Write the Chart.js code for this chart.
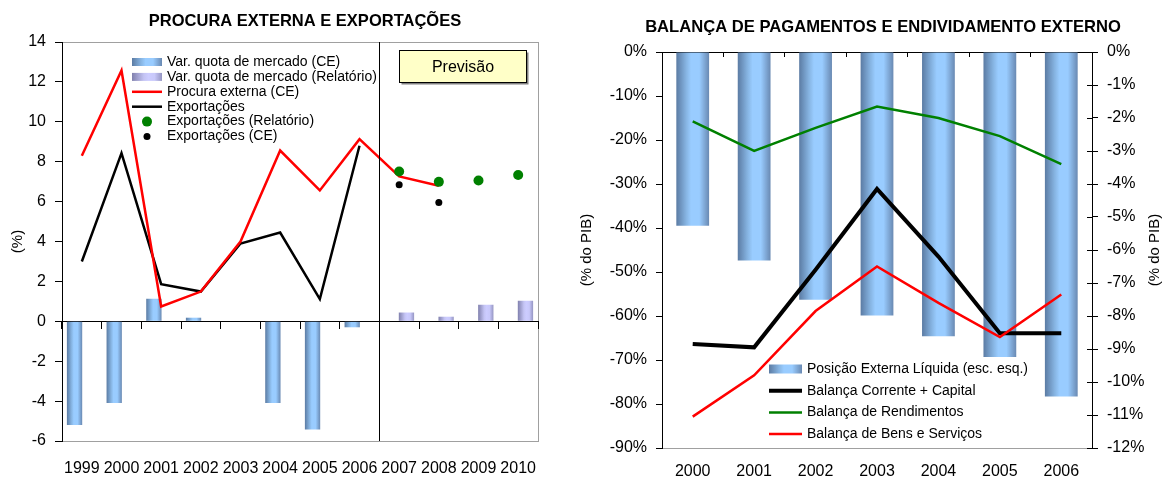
<!DOCTYPE html>
<html>
<head>
<meta charset="utf-8">
<script src="https://cdn.jsdelivr.net/npm/chart.js@4"></script>
<style>
html, body { margin: 0; padding: 0; background: #fff; }
#esq { position: absolute; left: 0; top: 0; width: 575px; height: 479px; }
#dir { position: absolute; left: 575px; top: 0; width: 587px; height: 479px; }
</style>
</head>
<body>
<div id="esq"><canvas id="procura"></canvas></div>
<div id="dir"><canvas id="balanca"></canvas></div>
<script>
const FONT = "'Liberation Sans', Arial, sans-serif";
Chart.defaults.font.family = FONT;
Chart.defaults.color = '#000';

// grafico 1 - procura externa e exportacoes
const anos1 = ['1999', '2000', '2001', '2002', '2003', '2004', '2005', '2006', '2007', '2008', '2009', '2010'];
const quotaCE = [-5.2, -4.1, 1.13, 0.18, null, -4.1, -5.42, -0.3, null, null, null, null];
const quotaRel = [null, null, null, null, null, null, null, null, 0.44, 0.23, 0.83, 1.03];
const procuraCE = [8.3, 12.57, 0.74, 1.49, 4.0, 8.56, 6.56, 9.13, 7.26, 6.79, null, null];
const exportacoes = [3.0, 8.43, 1.86, 1.49, 3.9, 4.45, 1.11, 8.8, null, null, null, null];
const exportRel = [null, null, null, null, null, null, null, null, 7.51, 6.99, 7.06, 7.33];
const exportCE = [null, null, null, null, null, null, null, null, 6.84, 5.95, null, null];

// grafico 2 - balanca de pagamentos
const anos2 = ['2000', '2001', '2002', '2003', '2004', '2005', '2006'];
const posicaoExt = [-39.5, -47.4, -56.3, -59.9, -64.6, -69.3, -78.3];
const balCorrente = [-8.85, -8.95, -6.6, -4.15, -6.2, -8.52, -8.52];
const balRend = [-2.1, -3.0, -2.3, -1.65, -2.0, -2.55, -3.4];
const balBens = [-11.05, -9.8, -7.85, -6.5, -7.6, -8.64, -7.35];

// gradientes das barras (efeito cilindro)
const GRAD_AZUL = [[0, '#5b7ba3'], [0.3, '#86b4e2'], [0.45, '#99ccff'], [0.7, '#99ccff'], [1, '#6989b2']];
const GRAD_LILAS = [[0, '#8080ad'], [0.4, '#c4c4f4'], [0.55, '#ccccff'], [0.75, '#c8c8fa'], [1, '#9595c2']];

const fazGradiente = (ctx, x0, x1, stops) => {
    const g = ctx.createLinearGradient(x0, 0, x1, 0);
    stops.forEach(([s, c]) => g.addColorStop(s, c));
    return g;
};

// aplica o gradiente a cada barra, usando a posicao calculada pelo chart
const barrasGradiente = {
    id: 'barrasGradiente',
    beforeDatasetsDraw(chart) {
        chart.data.datasets.forEach((ds, i) => {
            if (!ds.gradiente) return;
            chart.getDatasetMeta(i).data.forEach(bar => {
                if (!bar.width) return;
                bar.options.backgroundColor = fazGradiente(chart.ctx, bar.x - bar.width / 2, bar.x + bar.width / 2, ds.gradiente);
            });
        });
    }
};

// legenda desenhada dentro da area do grafico
const legendaPlugin = {
    id: 'legenda',
    afterDatasetsDraw(chart, args, opts) {
        const ctx = chart.ctx;
        ctx.save();
        ctx.font = opts.size + 'px ' + FONT;
        ctx.textBaseline = 'middle';
        ctx.textAlign = 'left';
        chart.data.datasets.forEach((ds, i) => {
            const y = opts.y + i * opts.row;
            const x0 = opts.x, x1 = opts.x + opts.w;
            if (ds.type === 'bar') {
                ctx.fillStyle = fazGradiente(ctx, x0, x1, ds.gradiente);
                ctx.fillRect(x0, y - opts.barH / 2, opts.w, opts.barH);
            } else if (ds.showLine === false) {
                ctx.fillStyle = ds.pointBackgroundColor;
                ctx.beginPath();
                ctx.arc((x0 + x1) / 2, y, ds.pointRadius, 0, Math.PI * 2);
                ctx.fill();
            } else {
                ctx.strokeStyle = ds.borderColor;
                ctx.lineWidth = ds.borderWidth;
                ctx.beginPath();
                ctx.moveTo(x0, y);
                ctx.lineTo(x1, y);
                ctx.stroke();
            }
            ctx.fillStyle = '#000';
            ctx.fillText(ds.label, x1 + opts.gap, y);
        });
        ctx.restore();
    }
};

// moldura cinzenta da area de desenho
const moldura = {
    id: 'moldura',
    beforeDraw(chart) {
        const a = chart.chartArea, ctx = chart.ctx;
        ctx.save();
        ctx.strokeStyle = '#a0a0a0';
        ctx.lineWidth = 1;
        ctx.strokeRect(Math.round(a.left) + 0.5, Math.round(a.top) + 0.5, Math.round(a.right - a.left), Math.round(a.bottom - a.top));
        ctx.restore();
    }
};

// titulo centrado com um pequeno desvio em relacao a area do grafico
const titulo = {
    id: 'titulo',
    afterDraw(chart, args, opts) {
        const ctx = chart.ctx, a = chart.chartArea;
        ctx.save();
        ctx.font = 'bold ' + opts.size + 'px ' + FONT;
        ctx.fillStyle = '#000';
        ctx.textAlign = 'center';
        ctx.textBaseline = 'middle';
        ctx.fillText(opts.texto, (a.left + a.right) / 2 + opts.dx, opts.y);
        ctx.restore();
    }
};

// linha de separacao e caixa "Previsão"
const previsao = {
    id: 'previsao',
    afterDraw(chart, args, opts) {
        const ctx = chart.ctx, xs = chart.scales.x, ys = chart.scales.y, a = chart.chartArea;
        ctx.save();
        const xSep = Math.round((xs.getPixelForValue(opts.separador - 1) + xs.getPixelForValue(opts.separador)) / 2) + 0.5;
        ctx.strokeStyle = '#000';
        ctx.lineWidth = 1;
        ctx.beginPath();
        ctx.moveTo(xSep, a.top);
        ctx.lineTo(xSep, a.bottom);
        ctx.stroke();

        const bx0 = Math.round(xs.getPixelForValue(opts.caixa.x0)) + 0.5;
        const bx1 = Math.round(xs.getPixelForValue(opts.caixa.x1)) + 0.5;
        const by0 = Math.round(ys.getPixelForValue(opts.caixa.y0)) + 0.5;
        const by1 = Math.round(ys.getPixelForValue(opts.caixa.y1)) + 0.5;
        ctx.fillStyle = '#808080';
        ctx.fillRect(bx0 + 2, by0 + 2, bx1 - bx0, by1 - by0);
        ctx.fillStyle = '#ffffc8';
        ctx.fillRect(bx0, by0, bx1 - bx0, by1 - by0);
        ctx.strokeRect(bx0, by0, bx1 - bx0, by1 - by0);
        ctx.fillStyle = '#000';
        ctx.font = '16px ' + FONT;
        ctx.textAlign = 'center';
        ctx.textBaseline = 'middle';
        ctx.fillText(opts.texto, (bx0 + bx1) / 2, (by0 + by1) / 2 + 1);
        ctx.restore();
    }
};

// titulo do eixo direito (lido de baixo para cima) e marcas cruzadas
const eixoDireito = {
    id: 'eixoDireito',
    afterDraw(chart, args, opts) {
        const ctx = chart.ctx, sc = chart.scales.y1;
        ctx.save();
        ctx.strokeStyle = '#000';
        ctx.lineWidth = 1;
        sc.ticks.forEach((t, i) => {
            const y = Math.round(sc.getPixelForTick(i)) + 0.5;
            ctx.beginPath();
            ctx.moveTo(sc.left - 5, y);
            ctx.lineTo(sc.left, y);
            ctx.stroke();
        });
        ctx.translate(sc.right - 7, (sc.top + sc.bottom) / 2);
        ctx.rotate(-Math.PI / 2);
        ctx.font = '15px ' + FONT;
        ctx.fillStyle = '#000';
        ctx.textAlign = 'center';
        ctx.textBaseline = 'middle';
        ctx.fillText(opts.texto, 0, 0);
        ctx.restore();
    }
};

const tickFont = { family: FONT, size: 16 };

new Chart(document.getElementById('procura'), {
    type: 'bar',
    data: {
        labels: anos1,
        datasets: [
            { type: 'bar', label: 'Var. quota de mercado (CE)', data: quotaCE, gradiente: GRAD_AZUL,
              backgroundColor: () => '#99ccff', borderWidth: 0, xAxisID: 'x', yAxisID: 'y', order: 10 },
            { type: 'bar', label: 'Var. quota de mercado (Relatório)', data: quotaRel, gradiente: GRAD_LILAS,
              backgroundColor: () => '#ccccff', borderWidth: 0, xAxisID: 'x', yAxisID: 'y', order: 10 },
            { type: 'line', label: 'Procura externa (CE)', data: procuraCE, borderColor: '#ff0000', borderWidth: 2.5,
              pointRadius: 0, tension: 0, spanGaps: false, xAxisID: 'x', yAxisID: 'y', order: 4 },
            { type: 'line', label: 'Exportações', data: exportacoes, borderColor: '#000000', borderWidth: 2.5,
              pointRadius: 0, tension: 0, xAxisID: 'x', yAxisID: 'y', order: 5 },
            { type: 'line', label: 'Exportações (Relatório)', data: exportRel, showLine: false, pointRadius: 5,
              pointBackgroundColor: '#008000', pointBorderWidth: 0, xAxisID: 'x', yAxisID: 'y', order: 2 },
            { type: 'line', label: 'Exportações (CE)', data: exportCE, showLine: false, pointRadius: 3.5,
              pointBackgroundColor: '#000000', pointBorderWidth: 0, xAxisID: 'x', yAxisID: 'y', order: 1 }
        ]
    },
    options: {
        responsive: true,
        maintainAspectRatio: false,
        animation: false,
        categoryPercentage: 0.735,
        barPercentage: 1.05,
        layout: { padding: { left: 0, right: 37, top: 42, bottom: 0 } },
        plugins: {
            legend: { display: false },
            tooltip: { enabled: false },
            title: { display: false },
            titulo: { texto: 'PROCURA EXTERNA E EXPORTAÇÕES', size: 16.5, dx: 5, y: 21 },
            legenda: { x: 132, y: 62, row: 14.9, w: 30, gap: 5, barH: 8, size: 14 },
            previsao: { separador: 8, caixa: { x0: 8, x1: 11.2, y0: 13.6, y1: 12.0 }, texto: 'Previsão' }
        },
        scales: {
            x: {
                type: 'category', position: { y: 0 }, offset: true,
                grid: { display: true, drawOnChartArea: false, drawTicks: true, tickLength: 7, color: '#000', offset: true },
                border: { display: true, color: '#000', width: 1 },
                ticks: { display: false },
                afterFit: s => { s.height = 0; }
            },
            xb: {
                type: 'category', labels: anos1, position: 'bottom', offset: true,
                grid: { display: false },
                border: { display: true, color: '#a0a0a0', width: 1 },
                ticks: { font: tickFont, color: '#000', padding: 10, maxRotation: 0, autoSkip: false },
                afterFit: s => { s.height = 38; }
            },
            y: {
                min: -6, max: 14,
                ticks: { stepSize: 2, font: tickFont, color: '#000', padding: 9 },
                grid: { drawOnChartArea: false, tickLength: 7, color: '#000' },
                border: { display: true, color: '#000', width: 1 },
                title: { display: true, text: '(%)', color: '#000', font: { family: FONT, size: 15 }, padding: { top: 9, bottom: 0 } },
                afterFit: s => { s.width = 62; }
            }
        }
    },
    plugins: [moldura, barrasGradiente, legendaPlugin, previsao, titulo]
});

new Chart(document.getElementById('balanca'), {
    type: 'bar',
    data: {
        labels: anos2,
        datasets: [
            { type: 'bar', label: 'Posição Externa Líquida (esc. esq.)', data: posicaoExt, gradiente: GRAD_AZUL,
              backgroundColor: () => '#99ccff', borderWidth: 0, xAxisID: 'x', yAxisID: 'y', order: 10 },
            { type: 'line', label: 'Balança Corrente + Capital', data: balCorrente, borderColor: '#000000', borderWidth: 4,
              pointRadius: 0, tension: 0, xAxisID: 'x', yAxisID: 'y1', order: 3 },
            { type: 'line', label: 'Balança de Rendimentos', data: balRend, borderColor: '#008000', borderWidth: 2.5,
              pointRadius: 0, tension: 0, xAxisID: 'x', yAxisID: 'y1', order: 2 },
            { type: 'line', label: 'Balança de Bens e Serviços', data: balBens, borderColor: '#ff0000', borderWidth: 2.5,
              pointRadius: 0, tension: 0, xAxisID: 'x', yAxisID: 'y1', order: 1 }
        ]
    },
    options: {
        responsive: true,
        maintainAspectRatio: false,
        animation: false,
        categoryPercentage: 0.8,
        barPercentage: 0.667,
        layout: { padding: { left: 0, right: 0, top: 52, bottom: 0 } },
        plugins: {
            legend: { display: false },
            tooltip: { enabled: false },
            title: { display: false },
            titulo: { texto: 'BALANÇA DE PAGAMENTOS E ENDIVIDAMENTO EXTERNO', size: 16.6, dx: 6, y: 27 },
            legenda: { x: 194, y: 369, row: 21.7, w: 33, gap: 5, barH: 9, size: 14 },
            eixoDireito: { texto: '(% do PIB)' }
        },
        scales: {
            x: {
                type: 'category', position: { y: 0 }, offset: true,
                grid: { display: true, drawOnChartArea: false, drawTicks: true, tickLength: 4, color: '#000', offset: true },
                border: { display: true, color: '#000', width: 1 },
                ticks: { display: false },
                afterFit: s => { s.height = 0; }
            },
            xb: {
                type: 'category', labels: anos2, position: 'bottom', offset: true,
                grid: { display: false },
                border: { display: true, color: '#a0a0a0', width: 1 },
                ticks: { font: tickFont, color: '#000', padding: 6, maxRotation: 0, autoSkip: false },
                afterFit: s => { s.height = 31; }
            },
            y: {
                min: -90, max: 0,
                ticks: { stepSize: 10, font: tickFont, color: '#000', padding: 9, callback: v => v + '%' },
                grid: { drawOnChartArea: false, tickLength: 6, color: '#000' },
                border: { display: true, color: '#000', width: 1 },
                title: { display: true, text: '(% do PIB)', color: '#000', font: { family: FONT, size: 15 }, padding: { top: 3, bottom: 0 } },
                afterFit: s => { s.width = 87; }
            },
            y1: {
                position: 'right', min: -12, max: 0,
                ticks: { stepSize: 1, font: tickFont, color: '#000', padding: 9, callback: v => v + '%' },
                grid: { drawOnChartArea: false, tickLength: 6, color: '#000' },
                border: { display: true, color: '#000', width: 1 },
                afterFit: s => { s.width = 70; }
            }
        }
    },
    plugins: [moldura, barrasGradiente, legendaPlugin, eixoDireito, titulo]
});
</script>
</body>
</html>
